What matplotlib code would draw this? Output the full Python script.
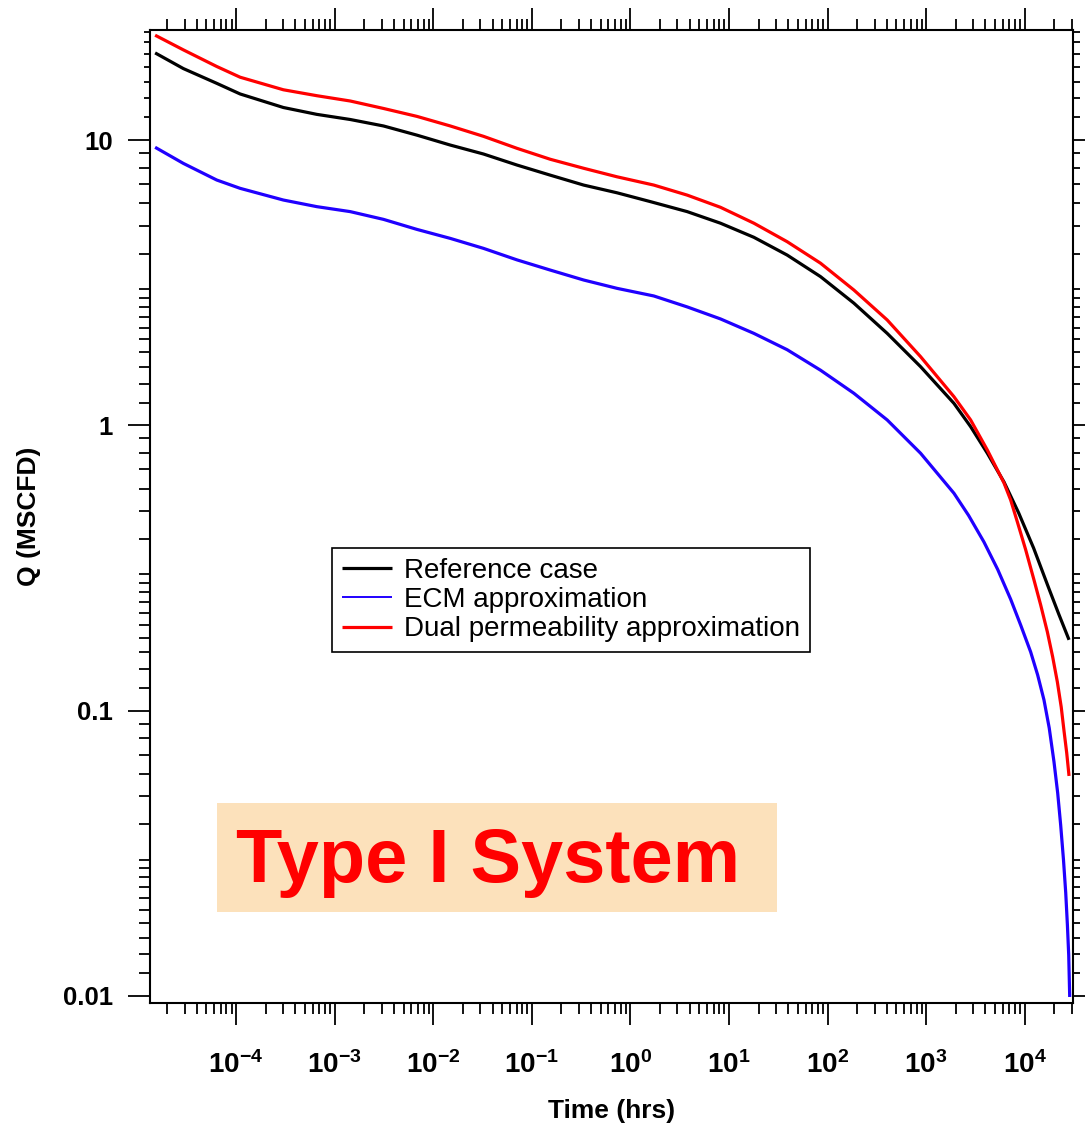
import numpy as np
import matplotlib.pyplot as plt
from matplotlib import ticker
from matplotlib.patches import Rectangle

plt.rcParams['font.family'] = ['Liberation Sans', 'DejaVu Sans']
plt.rcParams['font.weight'] = 'bold'
plt.rcParams['mathtext.fontset'] = 'custom'
plt.rcParams['mathtext.rm'] = 'Liberation Sans:bold'
plt.rcParams['mathtext.it'] = 'Liberation Sans:bold'
plt.rcParams['mathtext.bf'] = 'Liberation Sans:bold'

# Reference case (time in hrs, rate in MSCFD)
t_ref = [1.51e-5, 2.92e-5, 6.37e-5, 1.10e-4, 3.02e-4, 6.59e-4, 1.44e-3, 3.13e-3,
         6.84e-3, 1.49e-2, 3.24e-2, 7.08e-2, 0.154, 0.336, 0.733, 1.60, 3.77, 8.20,
         17.9, 39.0, 84.9, 185, 403, 879, 1915, 2830, 4180, 6166, 8690, 12330,
         17520, 22150, 28180]
q_ref = [20.2, 17.8, 15.8, 14.5, 13.0, 12.3, 11.8, 11.2, 10.4, 9.6, 8.93, 8.17,
         7.53, 6.95, 6.53, 6.08, 5.61, 5.11, 4.56, 3.95, 3.32, 2.68, 2.10, 1.605,
         1.194, 0.989, 0.798, 0.633, 0.493, 0.371, 0.269, 0.218, 0.177]

# ECM approximation
t_ecm = [1.51e-5, 2.92e-5, 6.37e-5, 1.10e-4, 3.02e-4, 6.59e-4, 1.44e-3, 3.13e-3,
         6.84e-3, 1.49e-2, 3.24e-2, 7.08e-2, 0.154, 0.336, 0.733, 1.73, 3.77, 8.20,
         17.9, 39.0, 84.9, 185, 403, 879, 1915, 2699, 3860, 5321, 7211, 9102,
         11500, 13540, 15700, 17740, 19830, 21620, 23180, 24750, 26080, 27130,
         27970, 28630]
q_ecm = [9.43, 8.28, 7.24, 6.77, 6.16, 5.84, 5.61, 5.27, 4.86, 4.52, 4.17, 3.80,
         3.50, 3.23, 3.02, 2.84, 2.60, 2.36, 2.10, 1.84, 1.56, 1.295, 1.044, 0.798,
         0.578, 0.483, 0.390, 0.3125, 0.2455, 0.1995, 0.1605, 0.1333, 0.1089,
         0.0869, 0.0661, 0.0514, 0.0397, 0.0300, 0.0230, 0.0177, 0.0139, 0.00991]

# Dual permeability approximation
t_dual = [1.51e-5, 2.92e-5, 6.37e-5, 1.10e-4, 3.02e-4, 6.59e-4, 1.44e-3, 3.13e-3,
          6.84e-3, 1.49e-2, 3.24e-2, 7.08e-2, 0.154, 0.336, 0.733, 1.73, 3.77, 8.20,
          17.9, 39.0, 84.9, 185, 403, 879, 1915, 2830, 4180, 6166, 7211, 8436,
          10240, 12430, 14530, 16990, 19230, 21460, 23480, 25070, 26700, 28180]
q_dual = [23.3, 20.7, 18.1, 16.6, 15.0, 14.3, 13.7, 12.9, 12.1, 11.2, 10.3, 9.35,
          8.56, 7.96, 7.43, 6.95, 6.41, 5.81, 5.11, 4.40, 3.70, 2.98, 2.34, 1.74,
          1.26, 1.044, 0.819, 0.628, 0.547, 0.458, 0.366, 0.287, 0.2345, 0.1886,
          0.1542, 0.1259, 0.1029, 0.0848, 0.0710, 0.0590]

labels = ['Reference case', 'ECM approximation', 'Dual permeability approximation']
colors = ['black', '#2000ff', 'red']

W, H = 1085, 1124
fig = plt.figure(figsize=(W / 100, H / 100), dpi=100)
ax = fig.add_axes([150 / W, 1 - 1003 / H, 922.7 / W, 973 / H])
ax.set_xscale('log')
ax.set_yscale('log')

for t, q, lab, c in zip([t_ref, t_ecm, t_dual], [q_ref, q_ecm, q_dual], labels, colors):
    ax.plot(t, q, color=c, lw=2.3, label=lab, solid_capstyle='butt',
            solid_joinstyle='round')

ax.set_xlim(1.34e-5, 3.07e4)
ax.set_ylim(0.00944, 24.3)

# ticks (Igor-like)
ax.xaxis.set_major_locator(ticker.FixedLocator(10.0 ** np.arange(-5, 6)))
ax.xaxis.set_minor_locator(ticker.FixedLocator(
    [m * 10.0 ** e for e in range(-6, 5) for m in range(2, 10)]))
ax.xaxis.set_major_formatter(ticker.FuncFormatter(
    lambda v, p: r'$\mathrm{10^{%d}}$' % int(round(np.log10(v)))))
ax.xaxis.set_minor_formatter(ticker.NullFormatter())

sub = [1.2, 1.4, 1.6, 1.8, 2.0, 2.2, 2.4, 2.6, 2.8, 3, 4, 5, 6, 7, 8, 9]
ax.yaxis.set_major_locator(ticker.FixedLocator([0.01, 0.1, 1, 10]))
ax.yaxis.set_minor_locator(ticker.FixedLocator(
    [m * 10.0 ** e for e in range(-3, 2) for m in sub]))
ax.yaxis.set_major_formatter(ticker.FuncFormatter(lambda v, p: '%g' % v))
ax.yaxis.set_minor_formatter(ticker.NullFormatter())

ax.tick_params(which='both', direction='out', top=True, right=True, width=1.3)
ax.tick_params(which='major', length=16)
ax.tick_params(which='minor', length=8)
ax.tick_params(axis='x', which='major', labelsize=20, pad=19)
ax.tick_params(axis='y', which='major', labelsize=18.5, pad=10.5)

for tk, loc in zip(ax.yaxis.get_minor_ticks(), ax.yaxis.get_minorticklocs()):
    tk.tick2line.set_markersize(5)
    if loc > 10:
        tk.tick1line.set_markersize(4)

for s in ax.spines.values():
    s.set_linewidth(1.5)

ax.set_xlabel('Time (hrs)', fontsize=19, fontweight='bold', labelpad=14)
ax.set_ylabel('Q (MSCFD)', fontsize=19, fontweight='bold', labelpad=16)

leg = ax.legend(loc='upper left', bbox_to_anchor=(332 / W, 1 - 548 / H),
                bbox_transform=fig.transFigure, prop={'size': 20, 'weight': 'normal'},
                fancybox=False, edgecolor='black', framealpha=1, borderpad=0.35,
                labelspacing=0.12, handlelength=1.8, handletextpad=0.45,
                borderaxespad=0)
leg.get_frame().set_linewidth(1.2)
leg.get_lines()[1].set_linewidth(1.4)

fig.add_artist(Rectangle((217 / W, 1 - 912 / H), 560 / W, 109 / H,
                         transform=fig.transFigure, facecolor='#fce1bb',
                         edgecolor='none', zorder=3))
fig.text(236 / W, 1 - 882 / H, 'Type I System', fontsize=54.5, color='red',
         weight='bold', ha='left', va='baseline', zorder=4)

fig.savefig('out.png', dpi=100)
